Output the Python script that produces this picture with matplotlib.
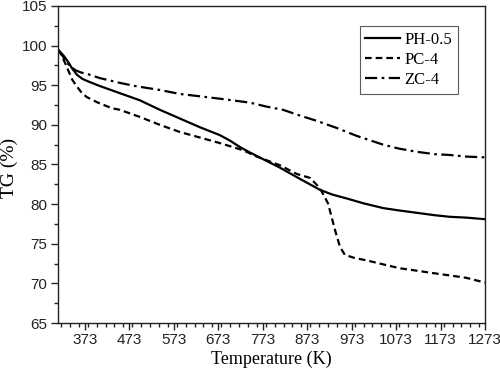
import matplotlib
matplotlib.use("Agg")
import matplotlib.pyplot as plt
from matplotlib.ticker import MultipleLocator, FixedLocator

# Data
ph_T = [313, 318, 326, 335, 345, 356, 368, 380, 407, 452, 497, 542, 587, 632, 677, 700, 722, 745,
        773, 812, 850, 902, 930, 963, 1000, 1044, 1080, 1120, 1160, 1194, 1230, 1273]
ph_v = [99.5, 99.2, 98.7, 98.0, 97.1, 96.3, 95.8, 95.5, 94.9, 94.0, 93.1, 91.9, 90.8, 89.7, 88.7, 88.0, 87.2, 86.5,
        85.7, 84.6, 83.4, 81.8, 81.2, 80.7, 80.1, 79.5, 79.2, 78.9, 78.6, 78.4, 78.3, 78.1]

pc_T = [313, 320, 329, 345, 356, 367, 378, 403, 434, 452, 497, 542, 587, 632, 677, 706, 729,
        760, 812, 850, 880, 902, 920, 936, 947, 958, 980, 1007, 1044, 1082, 1120, 1156, 1194, 1231, 1273]
pc_v = [99.5, 98.9, 97.8, 95.7, 94.8, 94.0, 93.5, 92.8, 92.1, 91.9, 91.0, 90.0, 89.1, 88.4, 87.7, 87.2, 86.8,
        86.0, 84.9, 83.8, 83.3, 82.0, 80.1, 76.7, 74.6, 73.6, 73.2, 72.9, 72.4, 71.9, 71.6, 71.3, 71.0, 70.7, 70.1]

zc_T = [313, 320, 330, 340, 352, 365, 380, 407, 452, 486, 542, 587, 632, 677, 745, 782, 819, 850, 895,
        940, 985, 1044, 1080, 1120, 1160, 1194, 1230, 1273]
zc_v = [99.5, 99.0, 98.1, 97.4, 96.9, 96.6, 96.4, 95.9, 95.3, 94.9, 94.4, 93.9, 93.6, 93.3, 92.8, 92.3, 91.9,
        91.3, 90.5, 89.6, 88.6, 87.5, 87.0, 86.6, 86.3, 86.2, 86.0, 85.9]

series_labels = ["PH-0.5", "PC-4", "ZC-4"]
xtick_vals = [373, 473, 573, 673, 773, 873, 973, 1073, 1173, 1273]
ytick_vals = [65, 70, 75, 80, 85, 90, 95, 100, 105]

fig = plt.figure(figsize=(5.0, 3.73), dpi=100)
ax = fig.add_axes([0.116, 0.134, 0.854, 0.850])

ax.plot(ph_T, ph_v, color="black", lw=1.6, ls="-", label=series_labels[0])
ax.plot(pc_T, pc_v, color="black", lw=1.6, ls=(0, (3, 1.8)), label=series_labels[1])
ax.plot(zc_T, zc_v, color="black", lw=1.6, ls=(0, (5.5, 2, 1.2, 2)), label=series_labels[2])

ax.set_xlim(313, 1273)
ax.set_ylim(65, 105)
ax.xaxis.set_major_locator(FixedLocator(xtick_vals))
ax.xaxis.set_minor_locator(MultipleLocator(20))
ax.yaxis.set_major_locator(FixedLocator(ytick_vals))
ax.yaxis.set_minor_locator(MultipleLocator(2.5))
ax.tick_params(which="both", direction="out", top=False, right=False, color="#222222")
ax.tick_params(which="major", length=5, width=1, pad=2.5)
ax.tick_params(which="minor", length=3, width=1)
for lab in ax.get_xticklabels() + ax.get_yticklabels():
    lab.set_fontfamily("Liberation Sans")
    lab.set_fontsize(11)
    lab.set_color("#222222")
for sp in ax.spines.values():
    sp.set_linewidth(1.0)
    sp.set_color("#222222")

ax.set_xlabel("Temperature (K)", fontfamily="Liberation Serif", fontsize=13, labelpad=2)
ax.set_ylabel("TG (%)", fontfamily="Liberation Serif", fontsize=14)
ax.yaxis.set_label_coords(-0.094, 0.49)

leg = ax.legend(loc="upper right", bbox_to_anchor=(0.937, 0.937), borderaxespad=0, frameon=True,
                fancybox=False, edgecolor="#333333", handlelength=2.1, handletextpad=0.25,
                borderpad=0.35, labelspacing=0.25, prop={"family": "Liberation Serif", "size": 12})
leg.get_frame().set_linewidth(0.8)

fig.savefig("out.png", dpi=100)
